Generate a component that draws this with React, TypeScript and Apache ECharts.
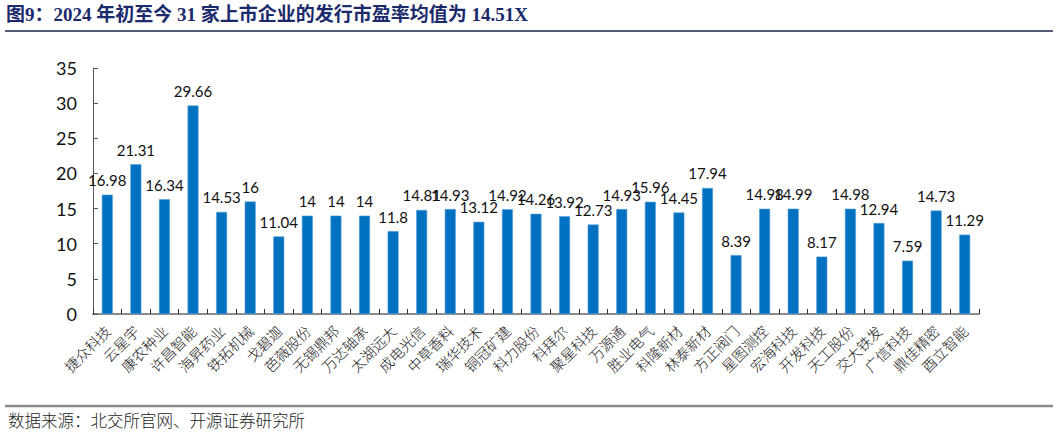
import React, { useEffect, useRef } from "react";
import * as echarts from "echarts";

const categories = [
  "捷众科技", "云星宇", "康农种业", "许昌智能", "海昇药业", "铁拓机械", "戈碧迦", "芭薇股份",
  "无锡鼎邦", "万达轴承", "太湖远大", "成电光信", "中草香料", "瑞华技术", "铜冠矿建", "科力股份",
  "科拜尔", "聚星科技", "万源通", "胜业电气", "科隆新材", "林泰新材", "方正阀门", "星图测控",
  "宏海科技", "开发科技", "天工股份", "交大铁发", "广信科技", "鼎佳精密", "酉立智能",
];
const peValues = [
  16.98, 21.31, 16.34, 29.66, 14.53, 16, 11.04, 14, 14, 14, 11.8, 14.81, 14.93, 13.12, 14.92, 14.26,
  13.92, 12.73, 14.93, 15.96, 14.45, 17.94, 8.39, 14.98, 14.99, 8.17, 14.98, 12.94, 7.59, 14.73, 11.29,
];
const yTicks = [0, 5, 10, 15, 20, 25, 30, 35];
const titleText = "图9：2024 年初至今 31 家上市企业的发行市盈率均值为 14.51X";
const sourceText = "数据来源：北交所官网、开源证券研究所";

export default function App() {
  const ref = useRef<HTMLDivElement>(null);
  useEffect(() => {
    if (!ref.current) return;
    const chart = echarts.init(ref.current, null, { renderer: "svg" });
    chart.setOption({
      animation: false,
      backgroundColor: "#ffffff",
      graphic: [
        {
          type: "text",
          left: 6,
          top: 5,
          style: {
            text: titleText,
            font: 'bold 19px "Liberation Serif", "Noto Sans CJK SC", serif',
            fill: "#1a2a6b",
          },
        },
        {
          type: "line",
          shape: { x1: 5, y1: 31, x2: 1053, y2: 31 },
          style: { stroke: "#1a2a4b", lineWidth: 1.5 },
        },
        {
          type: "line",
          shape: { x1: 5, y1: 406, x2: 1053, y2: 406 },
          style: { stroke: "#8a8a8a", lineWidth: 2.5 },
        },
        {
          type: "text",
          left: 8,
          top: 412,
          style: {
            text: sourceText,
            font: '300 16.5px "Noto Sans CJK SC", serif',
            fill: "#222",
          },
        },
      ],
      grid: { left: 93, right: 79, top: 68, bottom: 122, containLabel: false },
      xAxis: {
        type: "category",
        data: categories,
        axisLine: { lineStyle: { color: "#8c8c8c", width: 2 } },
        axisTick: { show: true, inside: true, length: 5, alignWithLabel: false, lineStyle: { color: "#333" } },
        axisLabel: {
          rotate: 45,
          interval: 0,
          fontSize: 14.5,
          fontWeight: 300,
          color: "#222",
          fontFamily: '"Noto Sans CJK SC", sans-serif',
          margin: 14,
        },
      },
      yAxis: {
        type: "value",
        min: 0,
        max: 35,
        interval: 5,
        splitLine: { show: false },
        axisLine: { show: true, lineStyle: { color: "#555", width: 1 } },
        axisTick: { show: true, inside: true, length: 5, lineStyle: { color: "#555" } },
        axisLabel: {
          fontSize: 18,
          color: "#111",
          fontFamily: "Lato, 'Open Sans', sans-serif",
          margin: 16,
          formatter: (v: number) => (yTicks.includes(v) ? String(v) : ""),
        },
      },
      series: [
        {
          type: "bar",
          data: peValues,
          barWidth: 11,
          itemStyle: { color: "#0070c0", borderColor: "#5ba3dc", borderWidth: 0.6 },
          label: {
            show: true,
            position: "top",
            distance: 7,
            fontSize: 15,
            color: "#111",
            fontFamily: "Lato, 'Open Sans', sans-serif",
          },
        },
      ],
    });
    return () => chart.dispose();
  }, []);
  return (
    <div
      ref={ref}
      style={{ position: "fixed", left: 0, top: 0, width: 1058, height: 436, background: "#fff" }}
    />
  );
}
